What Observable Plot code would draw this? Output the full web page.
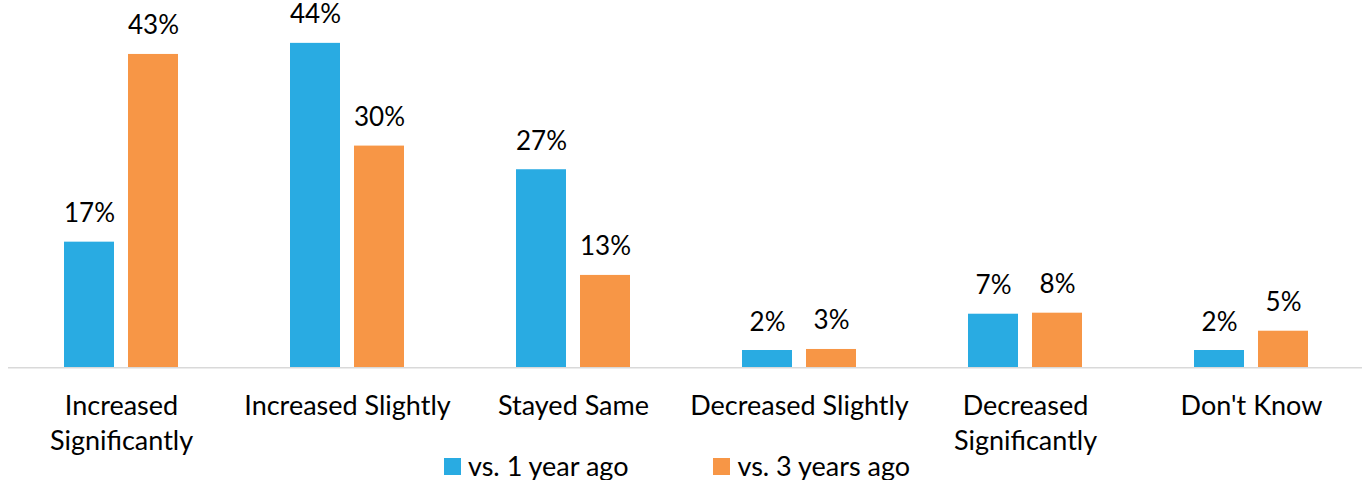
<!DOCTYPE html>
<html>
<head>
<meta charset="utf-8">
<script src="https://cdn.jsdelivr.net/npm/d3@7"></script>
<script src="https://cdn.jsdelivr.net/npm/@observablehq/plot@0.6"></script>
<style>
  body { margin: 0; background: #fff; font-family: Lato, sans-serif; }
  #chart svg { overflow: visible; display: block; }
  .legend { display: flex; align-items: center; height: 28px; line-height: 28px; margin-left: 444px; font-size: 27px; color: #000; }
  .legend .item { display: flex; align-items: center; }
  .legend .sw { width: 17px; height: 17px; margin-right: 7px; }
  .legend .item + .item { margin-left: 85px; }
</style>
</head>
<body>
<div id="chart"></div>
<script>
const categories = ["Increased\nSignificantly", "Increased Slightly", "Stayed Same", "Decreased Slightly", "Decreased\nSignificantly", "Don't Know"];
const seriesNames = ["vs. 1 year ago", "vs. 3 years ago"];
const colors = ["#29abe2", "#f79646"];
const values1 = [17.0, 43.9, 26.8, 2.34, 7.25, 2.34];
const values2 = [42.4, 30.0, 12.5, 2.48, 7.39, 4.95];
const labels1 = [17, 44, 27, 2, 7, 2];
const labels2 = [43, 30, 13, 3, 8, 5];

const data = [];
categories.forEach((c, i) => {
  data.push({category: c, series: seriesNames[0], value: values1[i], label: labels1[i] + "%"});
  data.push({category: c, series: seriesNames[1], value: values2[i], label: labels2[i] + "%"});
});

const chart = Plot.plot({
  width: 1362,
  height: 452,
  marginTop: 0,
  marginBottom: 84.7,
  marginLeft: 7,
  marginRight: -2,
  style: {fontFamily: "Lato, sans-serif", fontSize: "27px", color: "#000", background: "#fff"},
  fx: {domain: categories, paddingInner: 0, paddingOuter: 0, label: null, axis: null},
  x: {domain: seriesNames, paddingInner: 0.215, paddingOuter: 0.849, axis: null},
  y: {domain: [0, 49.7], axis: null},
  color: {domain: seriesNames, range: colors},
  marks: [
    Plot.axisFx({anchor: "bottom", tickSize: 0, tickPadding: 22.5, lineHeight: 1.3, fontSize: 27, fill: "#000", label: null}),
    Plot.barY(data, {fx: "category", x: "series", y: "value", fill: "series"}),
    Plot.ruleY([0], {stroke: "#d9d9d9", strokeWidth: 1.5}),
    Plot.text(data, {fx: "category", x: "series", y: "value", text: "label", lineAnchor: "bottom", dy: -20, fontSize: 26, fill: "#000"})
  ]
});
document.getElementById("chart").appendChild(chart);

const legend = document.createElement("div");
legend.className = "legend";
seriesNames.forEach((s, i) => {
  const item = document.createElement("div");
  item.className = "item";
  const sw = document.createElement("span");
  sw.className = "sw";
  sw.style.background = colors[i];
  const t = document.createElement("span");
  t.textContent = s;
  item.appendChild(sw);
  item.appendChild(t);
  legend.appendChild(item);
});
document.body.appendChild(legend);
</script>
</body>
</html>
